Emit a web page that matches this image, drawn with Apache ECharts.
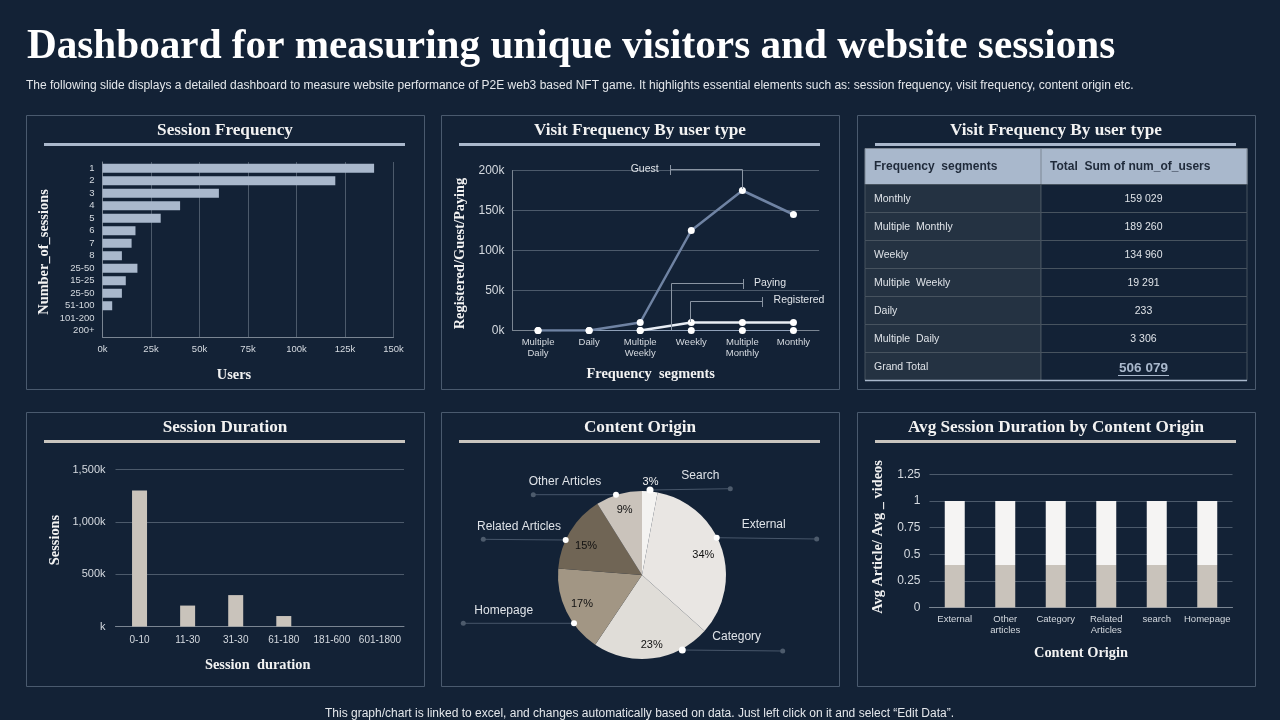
<!DOCTYPE html>
<html>
<head>
<meta charset="utf-8">
<title>Dashboard for measuring unique visitors and website sessions</title>
<script src="https://cdn.jsdelivr.net/npm/echarts@6/dist/echarts.min.js"></script>
<style>
    html, body { margin: 0; padding: 0; background: #132236; }
    #main { width: 1280px; height: 720px; }
</style>
</head>
<body>
<div id="main"></div>
<script>
// session frequency
var freqCategories = ['1', '2', '3', '4', '5', '6', '7', '8', '25-50', '15-25', '25-50', '51-100', '101-200', '200+'];
var freqUsers = [140000, 120000, 60000, 40000, 30000, 17000, 15000, 10000, 18000, 12000, 10000, 5000, 0, 0];

// visit frequency by user type
var visitCategories = ['Multiple\nDaily', 'Daily', 'Multiple\nWeekly', 'Weekly', 'Multiple\nMonthly', 'Monthly'];
var visitGuest = [0, 0, 10000, 125000, 175000, 145000];
var visitPaying = [0, 0, 0, 0, 0, 0];
var visitRegistered = [null, null, 0, 10000, 10000, 10000];

// table
var tableHeader = ['Frequency  segments', 'Total  Sum of num_of_users'];
var tableSegments = ['Monthly', 'Multiple  Monthly', 'Weekly', 'Multiple  Weekly', 'Daily', 'Multiple  Daily', 'Grand Total'];
var tableTotals = ['159 029', '189 260', '134 960', '19 291', '233', '3 306', '506 079'];

// session duration
var durationCategories = ['0-10', '11-30', '31-30', '61-180', '181-600', '601-1800'];
var durationSessions = [1300000, 200000, 300000, 100000, 0, 0];

// content origin
var originNames = ['Search', 'External', 'Category', 'Homepage', 'Related Articles', 'Other Articles'];
var originShares = [3, 34, 23, 17, 15, 9];

// avg session duration by content origin
var avgCategories = ['External', 'Other\narticles', 'Category', 'Related\nArticles', 'search', 'Homepage'];
var avgVideos = [0.4, 0.4, 0.4, 0.4, 0.4, 0.4];
var avgArticle = [0.6, 0.6, 0.6, 0.6, 0.6, 0.6];

var BG = '#132236';
var SANS = '"Liberation Sans", Arial, sans-serif';
var SERIF = '"Liberation Serif", serif';
var GRID = '#4c5a6b';
var TICK = '#d5dae0';
var originColors = ['#f4f3f1', '#e9e6e3', '#e0ddd8', '#a29684', '#706555', '#cac3bb'];
var labelNudge = [[2, -23], [-5, 2], [1, 1], [3, -2], [4, 7], [2, 2]];

var myChart = echarts.init(document.getElementById('main'));
var g = [];

function text(x, y, str, font, fill, align) {
    g.push({
        type: 'text', z: 20, silent: true,
        style: {x: x, y: y, text: str, font: font, fill: fill, align: align || 'center', verticalAlign: 'middle'}
    });
}
function line(points, color, width) {
    g.push({
        type: 'polyline', z: 15, silent: true,
        shape: {points: points},
        style: {stroke: color, lineWidth: width || 1, fill: null}
    });
}
function dot(x, y, r, color) {
    g.push({type: 'circle', z: 16, silent: true, shape: {cx: x, cy: y, r: r}, style: {fill: color}});
}
function box(x, y, w, h, fill, stroke) {
    g.push({
        type: 'rect', z: 1, silent: true,
        shape: {x: x, y: y, width: w, height: h},
        style: {fill: fill || null, stroke: stroke || null, lineWidth: 1}
    });
}
function axisName(extra) {
    return Object.assign({color: '#f2f2f2', fontFamily: SERIF, fontWeight: 'bold', fontSize: 14.4}, extra);
}

// panels with their heading and rule
function panel(x, y, title, ruleColor) {
    box(x + 0.5, y + 0.5, 398, 274, null, '#4a5a6e');
    text(x + 199, y + 16, title, 'bold 17.2px ' + SERIF, '#f2f2f2');
    g.push({
        type: 'rect', z: 2, silent: true,
        shape: {x: x + 18, y: y + 28, width: 361, height: 3},
        style: {fill: ruleColor}
    });
}
panel(26, 115, 'Session Frequency', '#aab8cc');
panel(441, 115, 'Visit Frequency By user type', '#aab8cc');
panel(857, 115, 'Visit Frequency By user type', '#aab8cc');
panel(26, 412, 'Session Duration', '#c9c5bf');
panel(441, 412, 'Content Origin', '#c9c5bf');
panel(857, 412, 'Avg Session Duration by Content Origin', '#c9c5bf');

// table built from the arrays
var tableX = [865, 1041, 1247];
var tableTop = 148.5, headH = 36, rowH = 28;
box(tableX[0], tableTop, tableX[2] - tableX[0], headH, '#a9b8cc', '#7d8794');
box(tableX[1], tableTop, tableX[2] - tableX[1], headH, '#a9b8cc', '#7d8794');
text(tableX[0] + 9, tableTop + 18, tableHeader[0], 'bold 12px ' + SANS, '#1f2a3a', 'left');
text(tableX[1] + 9, tableTop + 18, tableHeader[1], 'bold 12px ' + SANS, '#1f2a3a', 'left');
tableSegments.forEach(function (name, i) {
    var y = tableTop + headH + i * rowH;
    box(tableX[0], y, tableX[1] - tableX[0], rowH, '#243242', '#47535f');
    box(tableX[1], y, tableX[2] - tableX[1], rowH, BG, '#47535f');
    text(tableX[0] + 9, y + 14.5, name, '10.5px ' + SANS, '#dfe3e8', 'left');
    if (i === tableSegments.length - 1) {
        text(1143.5, y + 15.5, tableTotals[i], 'bold 13.5px ' + SANS, '#a9b8cc');
        line([[1118, y + 23], [1169, y + 23]], '#a9b8cc', 1);
    } else {
        text(1143.5, y + 14.5, tableTotals[i], '10.5px ' + SANS, '#dfe3e8');
    }
});
line([[865, 380.5], [1247, 380.5]], '#a9b8cc', 1.5);

// callouts on the line chart
var leader = '#8a95a3';
line([[670.5, 165], [670.5, 175]], leader);
line([[670.5, 169.5], [742.5, 169.5], [742.5, 189]], leader);
text(644.7, 169.5, 'Guest', '10.5px ' + SANS, '#dfe3e8');
line([[671.5, 330], [671.5, 283.5], [743.5, 283.5]], leader);
line([[743.5, 279], [743.5, 289]], leader);
text(770, 283.5, 'Paying', '10.5px ' + SANS, '#dfe3e8');
line([[690.5, 322], [690.5, 301.5], [762.5, 301.5]], leader);
line([[762.5, 297], [762.5, 307]], leader);
text(799, 300, 'Registered', '10.5px ' + SANS, '#dfe3e8');

// callouts on the pie
var pieCallouts = [
    {from: [650, 490], to: [730.3, 488.7], label: [700.3, 475.7]},
    {from: [716.7, 537.7], to: [816.7, 539], label: [763.7, 524.7]},
    {from: [682.3, 650], to: [782.7, 651], label: [736.7, 636.7]},
    {from: [574, 623.3], to: [463.3, 623.3], label: [503.7, 611]},
    {from: [565.7, 540], to: [483.3, 539.3], label: [519, 526.7]},
    {from: [616, 494.7], to: [533.3, 494.7], label: [565, 481.7]}
];
pieCallouts.forEach(function (c, i) {
    line([c.from, c.to], '#47566a', 1);
    dot(c.to[0], c.to[1], 2.5, '#4d5b6c');
    dot(c.from[0], c.from[1], i === 0 || i === 2 ? 3.5 : 3, '#ffffff');
    text(c.label[0], c.label[1], originNames[i], '12px ' + SANS, '#dfe3e8');
});

function catAxis(gridIndex, data, opt) {
    var a = {
        type: 'category', gridIndex: gridIndex, data: data,
        axisTick: {show: false},
        axisLine: {lineStyle: {color: '#7a8592', width: 1}},
        axisLabel: {color: TICK, fontFamily: SANS, fontSize: 9.5, interval: 0, lineHeight: 11, margin: 6},
        nameLocation: 'middle',
        nameTextStyle: axisName()
    };
    return Object.assign(a, opt);
}
function valAxis(gridIndex, max, interval, opt) {
    var a = {
        type: 'value', gridIndex: gridIndex, min: 0, max: max, interval: interval,
        axisTick: {show: false},
        axisLine: {show: true, lineStyle: {color: '#7a8592', width: 1}},
        splitLine: {show: true, lineStyle: {color: GRID, width: 1}},
        axisLabel: {color: TICK, fontFamily: SANS, fontSize: 11, margin: 7},
        nameLocation: 'middle',
        nameTextStyle: axisName()
    };
    return Object.assign(a, opt);
}
function kLabel(value) {
    return (value / 1000) + 'k';
}
function visitLine(name, data, color, width, xi) {
    return {
        name: name, type: 'line', xAxisIndex: xi, yAxisIndex: xi, data: data,
        symbol: 'circle', symbolSize: 7, z: 5,
        itemStyle: {color: '#ffffff'},
        lineStyle: {color: color, width: width}
    };
}

var option = {
    backgroundColor: BG,
    animation: false,
    title: [
        {
            text: 'Dashboard for measuring unique visitors and website sessions',
            left: 27, top: 27, padding: 0,
            textStyle: {color: '#ffffff', fontFamily: SERIF, fontWeight: 'bold', fontSize: 41.2}
        },
        {
            text: 'The following slide displays a detailed dashboard to measure website performance of P2E web3 based NFT game. It highlights essential elements such as: session frequency, visit frequency, content origin etc.',
            left: 26, top: 80, padding: 0,
            textStyle: {color: '#e4e7eb', fontFamily: SANS, fontWeight: 'normal', fontSize: 12}
        },
        {
            text: 'This graph/chart is linked to excel, and changes automatically based on data. Just left click on it and select \u201cEdit Data\u201d.',
            left: 325, top: 708, padding: 0,
            textStyle: {color: '#e4e7eb', fontFamily: SANS, fontWeight: 'normal', fontSize: 12}
        }
    ],
    grid: [
        {left: 102.5, top: 162, width: 291, height: 175},
        {left: 512.5, top: 170.5, width: 306.5, height: 160},
        {left: 115.5, top: 469.5, width: 288.5, height: 157},
        {left: 929.5, top: 474.5, width: 303, height: 133}
    ],
    xAxis: [
        valAxis(0, 150000, 25000, {
            name: 'Users', nameGap: 31,
            nameTextStyle: axisName({padding: [0, 28, 0, 0]}),
            axisLabel: {color: TICK, fontFamily: SANS, fontSize: 9.5, margin: 7, formatter: kLabel}
        }),
        catAxis(1, visitCategories, {
            name: 'Frequency  segments', nameGap: 37,
            nameTextStyle: axisName({padding: [0, 30, 0, 0]})
        }),
        catAxis(2, durationCategories, {
            name: 'Session  duration', nameGap: 32,
            axisLabel: {color: TICK, fontFamily: SANS, fontSize: 10, interval: 0, margin: 9},
            nameTextStyle: axisName({padding: [0, 4, 0, 0]})
        }),
        catAxis(3, avgCategories, {name: 'Content Origin', nameGap: 39})
    ],
    yAxis: [
        catAxis(0, freqCategories, {
            inverse: true, name: 'Number_of_sessions', nameGap: 51,
            axisLabel: {color: TICK, fontFamily: SANS, fontSize: 9.5, interval: 0, margin: 8},
            nameTextStyle: axisName({padding: [0, 5, 0, 0]})
        }),
        valAxis(1, 200000, 50000, {
            name: 'Registered/Guest/Paying', nameGap: 45,
            axisLabel: {color: TICK, fontFamily: SANS, fontSize: 12, margin: 8, formatter: kLabel},
            nameTextStyle: axisName({padding: [0, 6, 0, 0]})
        }),
        valAxis(2, 1500000, 500000, {
            name: 'Sessions', nameGap: 53,
            axisLine: {show: false},
            axisLabel: {
                color: TICK, fontFamily: SANS, fontSize: 11, margin: 10,
                formatter: function (value) {
                    return value === 0 ? 'k' : echarts.format.addCommas(value / 1000) + 'k';
                }
            },
            nameTextStyle: axisName({padding: [0, 0, 0, 16]})
        }),
        valAxis(3, 1.25, 0.25, {
            name: 'Avg Article/ Avg _ videos', nameGap: 44,
            axisLine: {show: false},
            axisLabel: {color: TICK, fontFamily: SANS, fontSize: 12, margin: 9},
            nameTextStyle: axisName({padding: [0, 0, 0, 8]})
        })
    ],
    series: [
        {
            name: 'Users', type: 'bar', xAxisIndex: 0, yAxisIndex: 0, data: freqUsers,
            barWidth: 9, itemStyle: {color: '#a9b8cc'}
        },
        visitLine('Paying', visitPaying, '#8fa0b8', 1, 1),
        visitLine('Registered', visitRegistered, '#e8edf4', 2.5, 1),
        visitLine('Guest', visitGuest, '#6f83a3', 2.5, 1),
        {
            name: 'Sessions', type: 'bar', xAxisIndex: 2, yAxisIndex: 2, data: durationSessions,
            barWidth: 15, itemStyle: {color: '#c9c3bb'}
        },
        {
            name: 'Avg videos', type: 'bar', stack: 'avg', xAxisIndex: 3, yAxisIndex: 3, data: avgVideos,
            barWidth: 20, itemStyle: {color: '#c9c3bb'}
        },
        {
            name: 'Avg article', type: 'bar', stack: 'avg', xAxisIndex: 3, yAxisIndex: 3, data: avgArticle,
            barWidth: 20, itemStyle: {color: '#f5f4f3'}
        },
        {
            name: 'Content Origin', type: 'pie', center: [642, 575], radius: [0, 84], startAngle: 90,
            label: {show: false}, labelLine: {show: false},
            data: originNames.map(function (name, i) {
                return {name: name, value: originShares[i], itemStyle: {color: originColors[i]}};
            })
        },
        {
            // transparent ring only so the percent labels sit near the rim
            name: 'Content Origin labels', type: 'pie', center: [642, 575], radius: [50, 84], startAngle: 90,
            silent: true, z: 6,
            itemStyle: {color: 'transparent'},
            labelLine: {show: false},
            label: {position: 'inside', formatter: '{c}%', fontFamily: SANS, fontSize: 11, color: '#111111'},
            labelLayout: function (params) {
                var n = labelNudge[params.dataIndex];
                return {dx: n[0], dy: n[1]};
            },
            data: originNames.map(function (name, i) {
                return {
                    name: name, value: originShares[i],
                    label: {color: i === 0 ? '#f2f2f2' : '#111111'}
                };
            })
        }
    ],
    graphic: {elements: g}
};
myChart.setOption(option);
</script>
</body>
</html>
